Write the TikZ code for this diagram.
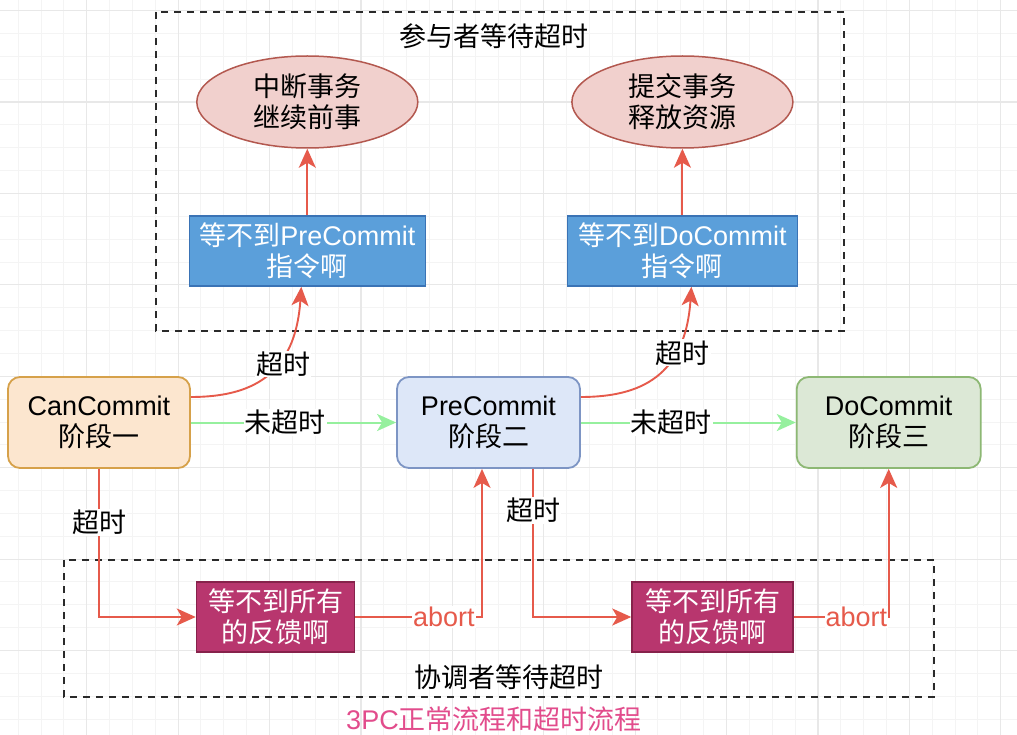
\documentclass[tikz,border=0pt]{standalone}
\usepackage{fontspec}
\setmainfont{Liberation Sans}
\newfontfamily\cjk{Noto Sans CJK SC}
\usetikzlibrary{arrows.meta,calc,shapes.geometric}
\definecolor{gridminor}{HTML}{F4F4F4}
\definecolor{gridmajor}{HTML}{E8E8E8}
\definecolor{arrowred}{HTML}{E65A4B}
\definecolor{arrowgreen}{HTML}{96F09E}
\definecolor{canfill}{HTML}{FCE6CF}
\definecolor{canline}{HTML}{D6A14A}
\definecolor{prefill}{HTML}{DDE7F8}
\definecolor{preline}{HTML}{7D95C4}
\definecolor{dofill}{HTML}{DCE8D6}
\definecolor{doline}{HTML}{8DB874}
\definecolor{ellfill}{HTML}{F1D0CD}
\definecolor{ellline}{HTML}{B3584F}
\definecolor{bluefill}{HTML}{5B9FDA}
\definecolor{blueline}{HTML}{3A73B5}
\definecolor{pinkfill}{HTML}{B8366E}
\definecolor{pinkline}{HTML}{86224B}
\definecolor{dashcol}{HTML}{2A2A2A}
\definecolor{captionpink}{HTML}{E24C8C}
\newcommand\lblfont{\fontsize{27}{31}\selectfont}
\begin{document}
\begin{tikzpicture}[x=1pt,y=-1pt,
  phasebox/.style={draw, rounded corners=12pt, line width=1.8pt, minimum width=183pt, minimum height=91pt, align=center, font=\lblfont, inner sep=0pt, text=black},
  ellnode/.style={ellipse, draw=ellline, fill=ellfill, line width=1.5pt, minimum width=221pt, minimum height=92pt, inner sep=0pt, align=center, font=\lblfont\cjk},
  bluebox/.style={draw=blueline, fill=bluefill, line width=1.5pt, minimum height=70pt, inner sep=0pt, align=center, font=\lblfont, text=white},
  pinkbox/.style={draw=pinkline, fill=pinkfill, line width=1.5pt, minimum height=70pt, inner sep=0pt, align=center, font=\lblfont\cjk, text=white},
  groupbox/.style={draw=dashcol, line width=2.2pt, dash pattern=on 7pt off 6pt},
  redarrow/.style={draw=arrowred, line width=1.9pt, -{Stealth[length=19pt,width=17pt,inset=5pt]}},
  greenarrow/.style={draw=arrowgreen, line width=2pt, -{Stealth[length=19pt,width=17pt,inset=5pt]}},
  lab/.style={fill=white, inner sep=1pt, font=\lblfont, text=black},
  plaintext/.style={font=\lblfont\cjk, inner sep=0pt}
]
\useasboundingbox (0,0) rectangle (1017,735);
\fill[white] (0,0) rectangle (1017,735);
% grid
\foreach \i in {0,...,44} {\draw[gridminor, line width=1pt] ({18.15+22.85*\i},0) -- ({18.15+22.85*\i},735);}
\foreach \i in {0,...,32} {\draw[gridminor, line width=1pt] (0,{10.7+22.85*\i}) -- (1017,{10.7+22.85*\i});}
\foreach \i in {0,...,10} {\draw[gridmajor, line width=1.2pt] ({86.7+91.4*\i},0) -- ({86.7+91.4*\i},735);}
\foreach \i in {0,...,7} {\draw[gridmajor, line width=1.2pt] (0,{10.7+91.4*\i}) -- (1017,{10.7+91.4*\i});}

% group boxes
\draw[groupbox] (156,12) rectangle (844,331);
\draw[groupbox] (64,560) rectangle (934,697);
\node[plaintext] (toptitle) at (493.7,36) {参与者等待超时};
\node[plaintext] (bottitle) at (509,677) {协调者等待超时};
\node[plaintext, font=\lblfont, text=captionpink] (caption) at (494,719) {3PC{\cjk 正常流程和超时流程}};

% phases
\node[phasebox, draw=canline, fill=canfill, minimum width=182pt] (can) at (99,422.5) {CanCommit\\{\cjk 阶段一}};
\node[phasebox, draw=preline, fill=prefill] (pre) at (488.5,422.5) {PreCommit\\{\cjk 阶段二}};
\node[phasebox, draw=doline, fill=dofill, minimum width=184pt] (do) at (888.7,422.5) {DoCommit\\{\cjk 阶段三}};

% participant side
\node[ellnode] (ella) at (307.3,102) {中断事务\\继续前事};
\node[ellnode] (ellb) at (682.4,102) {提交事务\\释放资源};
\node[bluebox, minimum width=236pt] (bluea) at (307.3,251) {{\cjk 等不到}PreCommit\\{\cjk 指令啊}};
\node[bluebox, minimum width=230pt] (blueb) at (682.4,251) {{\cjk 等不到}DoCommit\\{\cjk 指令啊}};

% coordinator side
\node[pinkbox, minimum width=158pt] (pinka) at (275.5,617) {等不到所有\\的反馈啊};
\node[pinkbox, minimum width=161pt] (pinkb) at (712.5,617) {等不到所有\\的反馈啊};

% edges
\draw[redarrow] (bluea.north) -- (ella.south);
\draw[redarrow] (blueb.north) -- (ellb.south);

\draw[greenarrow] (can.east) -- node[lab, pos=0.46]{\cjk 未超时} (pre.west);
\draw[greenarrow] (pre.east) -- node[lab, pos=0.42]{\cjk 未超时} (do.west);

\draw[redarrow] ($(can.east)+(0,-25.5)$) .. controls ($(can.east)+(60,-25.5)$) and ($(bluea.south)+(-12,89)$) .. node[lab, pos=0.6, xshift=6pt]{\cjk 超时} ($(bluea.south)+(-6,0)$);
\draw[redarrow] ($(pre.east)+(0,-25.5)$) .. controls ($(pre.east)+(60,-25.5)$) and ($(blueb.south)+(3,89)$) .. node[lab, pos=0.68, xshift=8pt]{\cjk 超时} ($(blueb.south)+(9,0)$);

\draw[redarrow] (can.south) |- node[lab, pos=0.18]{\cjk 超时} (pinka.west);
\draw[redarrow] (pinka.east) -| node[lab, pos=0.35, text=arrowred]{abort} ($(pre.south)+(-6.5,0)$);
\draw[redarrow] ($(pre.south)+(44.5,0)$) |- node[lab, pos=0.14]{\cjk 超时} (pinkb.west);
\draw[redarrow] (pinkb.east) -| node[lab, pos=0.33, text=arrowred]{abort} (do.south);
\end{tikzpicture}
\end{document}
